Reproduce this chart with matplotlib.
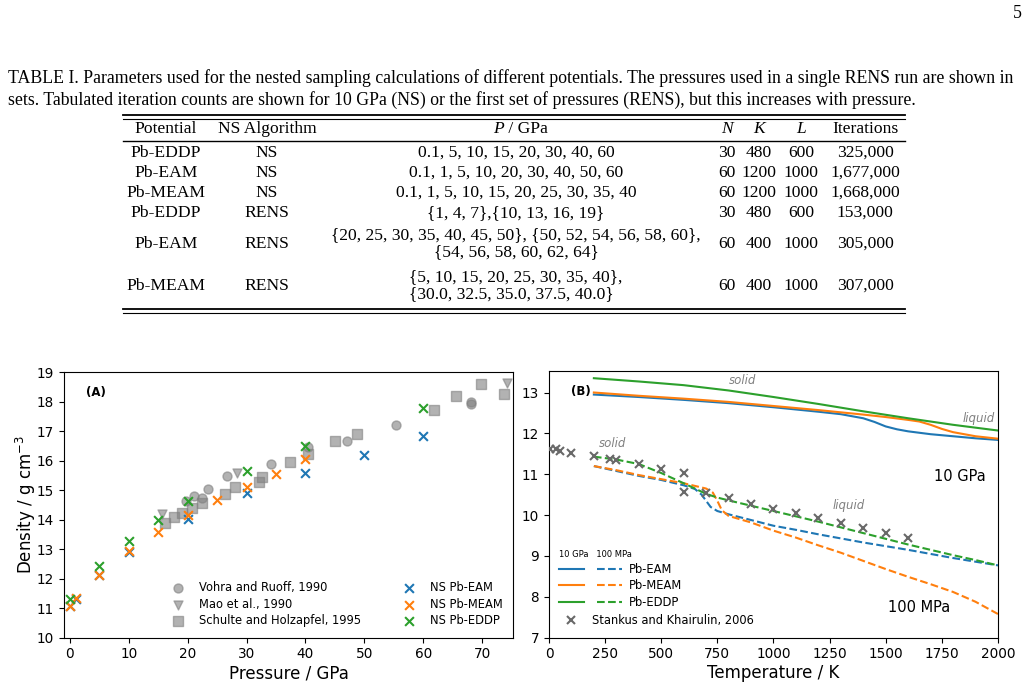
import matplotlib
matplotlib.use("Agg")
import matplotlib.pyplot as plt
from matplotlib.lines import Line2D
from matplotlib.legend_handler import HandlerTuple

W, H = 1029, 686

# ---- table I ----
caption = ["TABLE I. Parameters used for the nested sampling calculations of different potentials. "
           "The pressures used in a single RENS run are shown in",
           "sets. Tabulated iteration counts are shown for 10 GPa (NS) or the first set of pressures "
           "(RENS), but this increases with pressure."]
potentials = ["Pb-EDDP", "Pb-EAM", "Pb-MEAM", "Pb-EDDP", "Pb-EAM", "Pb-MEAM"]
algorithms = ["NS", "NS", "NS", "RENS", "RENS", "RENS"]
pressures = ["0.1, 5, 10, 15, 20, 30, 40, 60",
             "0.1, 1, 5, 10, 20, 30, 40, 50, 60",
             "0.1, 1, 5, 10, 15, 20, 25, 30, 35, 40",
             "{1, 4, 7},{10, 13, 16, 19}",
             "{20, 25, 30, 35, 40, 45, 50}, {50, 52, 54, 56, 58, 60},\n{54, 56, 58, 60, 62, 64}",
             "{5, 10, 15, 20, 25, 30, 35, 40},\n{30.0, 32.5, 35.0, 37.5, 40.0}"]
n_walkers = ["30", "60", "60", "30", "60", "60"]
k_vals = ["480", "1200", "1200", "480", "400", "400"]
l_vals = ["600", "1000", "1000", "600", "1000", "1000"]
iterations = ["325,000", "1,677,000", "1,668,000", "153,000", "305,000", "307,000"]

# ---- panel A: density vs pressure ----
vohra_p = [19.8, 21.1, 22.5, 23.5, 26.7, 34.2, 40.5, 47.0, 55.3, 68.1, 68.1]
vohra_d = [14.64, 14.81, 14.75, 15.05, 15.48, 15.90, 16.45, 16.68, 17.21, 18.00, 17.91]
mao_p = [15.6, 28.4, 74.3]
mao_d = [14.19, 15.60, 18.63]
schulte_p = [16.2, 17.7, 19.1, 20.8, 22.5, 26.3, 28.0, 32.1, 32.6, 37.4, 40.5, 45.0, 48.7,
             61.9, 65.6, 69.8, 73.7]
schulte_d = [13.90, 14.10, 14.24, 14.41, 14.58, 14.87, 15.10, 15.28, 15.46, 15.97, 16.23,
             16.67, 16.91, 17.72, 18.21, 18.60, 18.28]
eam_p = [0.1, 1, 5, 10, 20, 30, 40, 50, 60]
eam_d = [11.07, 11.30, 12.14, 12.90, 14.01, 14.89, 15.57, 16.18, 16.83]
meam_p = [0.1, 1, 5, 10, 15, 20, 25, 30, 35, 40]
meam_d = [11.07, 11.33, 12.14, 12.94, 13.60, 14.15, 14.67, 15.12, 15.55, 16.05]
eddp_p = [0.1, 5, 10, 15, 20, 30, 40, 60]
eddp_d = [11.31, 12.44, 13.29, 14.00, 14.62, 15.66, 16.49, 17.80]

# ---- panel B: density vs temperature ----
T_eddp_hi = [200, 400, 600, 800, 1000, 1200, 1400, 1600, 1800, 2000]
eddp_hi = [13.35, 13.27, 13.18, 13.05, 12.89, 12.72, 12.54, 12.37, 12.21, 12.07]
T_eam_hi = [200, 400, 600, 800, 1000, 1200, 1300, 1400, 1450, 1500, 1550, 1600, 1700, 1800,
            1900, 2000]
eam_hi = [12.95, 12.89, 12.82, 12.74, 12.64, 12.53, 12.47, 12.37, 12.28, 12.17, 12.10, 12.05,
          11.98, 11.93, 11.88, 11.84]
T_meam_hi = [200, 400, 600, 800, 1000, 1200, 1400, 1500, 1600, 1650, 1700, 1750, 1800, 1900,
             2000]
meam_hi = [13.00, 12.92, 12.85, 12.77, 12.67, 12.57, 12.46, 12.40, 12.33, 12.29, 12.21, 12.11,
           12.03, 11.93, 11.87]
T_eddp_lo = [200, 300, 400, 500, 600, 650, 700, 750, 800, 900, 1000, 1100, 1200, 1300, 1400,
             1500, 1600, 1700, 1800, 1900, 2000]
eddp_lo = [11.43, 11.36, 11.25, 11.03, 10.78, 10.65, 10.52, 10.43, 10.36, 10.23, 10.10, 9.97,
           9.84, 9.70, 9.56, 9.42, 9.28, 9.15, 9.02, 8.90, 8.77]
T_eam_lo = [200, 300, 400, 500, 600, 650, 680, 700, 720, 750, 800, 900, 1000, 1100, 1200,
            1300, 1400, 1500, 1600, 1700, 1800, 1900, 2000]
eam_lo = [11.20, 11.08, 10.96, 10.86, 10.73, 10.64, 10.50, 10.35, 10.20, 10.10, 10.02, 9.88,
          9.74, 9.64, 9.53, 9.43, 9.33, 9.24, 9.15, 9.05, 8.95, 8.86, 8.77]
T_meam_lo = [200, 300, 400, 500, 600, 700, 730, 750, 770, 800, 900, 1000, 1100, 1200, 1300,
             1400, 1500, 1600, 1700, 1800, 1900, 2000]
meam_lo = [11.20, 11.10, 10.98, 10.88, 10.78, 10.65, 10.55, 10.35, 10.12, 9.98, 9.82, 9.62,
           9.45, 9.26, 9.08, 8.88, 8.68, 8.49, 8.31, 8.12, 7.88, 7.58]
stankus_T = [5, 30, 50, 100, 200, 273, 298, 400, 500, 600, 600, 700, 800, 900, 1000, 1100,
             1200, 1300, 1400, 1500, 1600]
stankus_d = [11.61, 11.61, 11.58, 11.53, 11.45, 11.38, 11.36, 11.26, 11.14, 11.04, 10.57,
             10.54, 10.41, 10.28, 10.16, 10.04, 9.92, 9.80, 9.68, 9.56, 9.44]

fig = plt.figure(figsize=(W / 100, H / 100), dpi=100)


def fx(px):
    return px / W


def fy(py):
    return 1 - py / H


serif = "Liberation Serif"
fs_cap = 12.8
fs_tab = 12.6

# page number + caption
fig.text(fx(1017), fy(14), "5", family=serif, fontsize=fs_cap, ha="center", va="center")
fig.text(fx(8), fy(78), caption[0], family=serif, fontsize=fs_cap, ha="left", va="center")
fig.text(fx(8), fy(100), caption[1], family=serif, fontsize=fs_cap, ha="left", va="center")

# rules
for y, lw in [(115, 1.3), (118.5, 0.8), (141, 1.0), (309, 1.3), (313, 0.8)]:
    fig.add_artist(Line2D([fx(123), fx(905)], [fy(y), fy(y)], color="black", lw=lw))

col_x = {"pot": 166, "alg": 267, "p": 516, "n": 727, "k": 759, "l": 801, "it": 865}

hy = 129
fig.text(fx(col_x["pot"]), fy(hy), "Potential", family=serif, fontsize=fs_tab, ha="center", va="center")
fig.text(fx(col_x["alg"]), fy(hy), "NS Algorithm", family=serif, fontsize=fs_tab, ha="center", va="center")
fig.text(fx(col_x["p"] - 12), fy(hy), "P", family=serif, style="italic", fontsize=fs_tab, ha="right", va="center")
fig.text(fx(col_x["p"] - 12), fy(hy), " / GPa", family=serif, fontsize=fs_tab, ha="left", va="center")
for key, lab in [("n", "N"), ("k", "K"), ("l", "L")]:
    fig.text(fx(col_x[key]), fy(hy), lab, family=serif, style="italic", fontsize=fs_tab,
             ha="center", va="center")
fig.text(fx(col_x["it"]), fy(hy), "Iterations", family=serif, fontsize=fs_tab, ha="center", va="center")

row_y = [153, 173, 193, 213, 244, 286]
for i, y in enumerate(row_y):
    cells = [("pot", potentials[i]), ("alg", algorithms[i]), ("n", n_walkers[i]),
             ("k", k_vals[i]), ("l", l_vals[i]), ("it", iterations[i])]
    for key, txt in cells:
        fig.text(fx(col_x[key]), fy(y), txt, family=serif, fontsize=fs_tab, ha="center", va="center")
    fig.text(fx(col_x["p"]), fy(y), pressures[i], family=serif, fontsize=fs_tab, ha="center",
             va="center", multialignment="left" if i == 5 else "center", linespacing=1.1)

# ---- panel A ----
ax1 = fig.add_axes([0.0622, 0.0704, 0.4366, 0.3869])
ax1.scatter(vohra_p, vohra_d, marker="o", s=42, color="grey", alpha=0.6, label="Vohra and Ruoff, 1990")
ax1.scatter(mao_p, mao_d, marker="v", s=42, color="grey", alpha=0.6, label="Mao et al., 1990")
ax1.scatter(schulte_p, schulte_d, marker="s", s=42, color="grey", alpha=0.6,
            label="Schulte and Holzapfel, 1995")
ax1.scatter(eam_p, eam_d, marker="x", s=40, lw=1.5, color="tab:blue", label="NS Pb-EAM")
ax1.scatter(meam_p, meam_d, marker="x", s=40, lw=1.5, color="tab:orange", label="NS Pb-MEAM")
ax1.scatter(eddp_p, eddp_d, marker="x", s=40, lw=1.5, color="tab:green", label="NS Pb-EDDP")
ax1.set_xlim(-1.0, 75.3)
ax1.set_ylim(10, 19)
ax1.set_yticks(range(10, 20))
ax1.tick_params(labelsize=9.8)
ax1.set_xlabel("Pressure / GPa", fontsize=12, labelpad=2)
ax1.set_ylabel("Density / g cm$^{-3}$", fontsize=12, labelpad=-1)
ax1.text(0.05, 0.925, "(A)", transform=ax1.transAxes, fontsize=8.5, fontweight="bold",
         ha="left", va="center")
ax1.legend(ncol=2, loc="lower right", frameon=False, fontsize=8.3, labelspacing=0.3,
           columnspacing=3.2)

# ---- panel B ----
ax2 = fig.add_axes([0.5335, 0.0704, 0.4363, 0.3884])
s_eam, = ax2.plot(T_eam_hi, eam_hi, color="tab:blue", lw=1.5)
s_meam, = ax2.plot(T_meam_hi, meam_hi, color="tab:orange", lw=1.5)
s_eddp, = ax2.plot(T_eddp_hi, eddp_hi, color="tab:green", lw=1.5)
d_eam, = ax2.plot(T_eam_lo, eam_lo, color="tab:blue", lw=1.5, ls="--")
d_meam, = ax2.plot(T_meam_lo, meam_lo, color="tab:orange", lw=1.5, ls="--")
d_eddp, = ax2.plot(T_eddp_lo, eddp_lo, color="tab:green", lw=1.5, ls="--")
stk, = ax2.plot(stankus_T, stankus_d, ls="none", marker="x", ms=6, mew=1.5, color="dimgray", zorder=3)
ax2.set_xlim(0, 2000)
ax2.set_ylim(7, 13.52)
ax2.set_xticks(range(0, 2001, 250))
ax2.set_yticks(range(7, 14))
ax2.tick_params(labelsize=9.8)
ax2.set_xlabel("Temperature / K", fontsize=12, labelpad=2)
ax2.text(0.049, 0.925, "(B)", transform=ax2.transAxes, fontsize=8.5, fontweight="bold",
         ha="left", va="center")

for x, y, s, ha in [(862, 13.29, "solid", "center"), (1988, 12.36, "liquid", "right"),
                    (282, 11.75, "solid", "center"), (1334, 10.23, "liquid", "center")]:
    ax2.text(x, y, s, style="italic", color="grey", fontsize=8.5, ha=ha, va="center")
ax2.text(1832, 10.94, "10 GPa", fontsize=10.5, ha="center", va="center")
ax2.text(1649, 7.75, "100 MPa", fontsize=10.5, ha="center", va="center")

leg = ax2.legend([(s_eam, d_eam), (s_meam, d_meam), (s_eddp, d_eddp)],
                 ["Pb-EAM", "Pb-MEAM", "Pb-EDDP"],
                 handler_map={tuple: HandlerTuple(ndivide=None, pad=1.16)},
                 handlelength=5.4, handletextpad=0.67, labelspacing=0.3,
                 title="10 GPa   100 MPa", title_fontsize=6, alignment="left",
                 loc="lower left", bbox_to_anchor=(0, 0.07), frameon=False, fontsize=8.3)
ax2.add_artist(leg)
ax2.legend([stk], ["Stankus and Khairulin, 2006"], loc="lower left", frameon=False, fontsize=8.3)

fig.savefig("out.png", dpi=100)
